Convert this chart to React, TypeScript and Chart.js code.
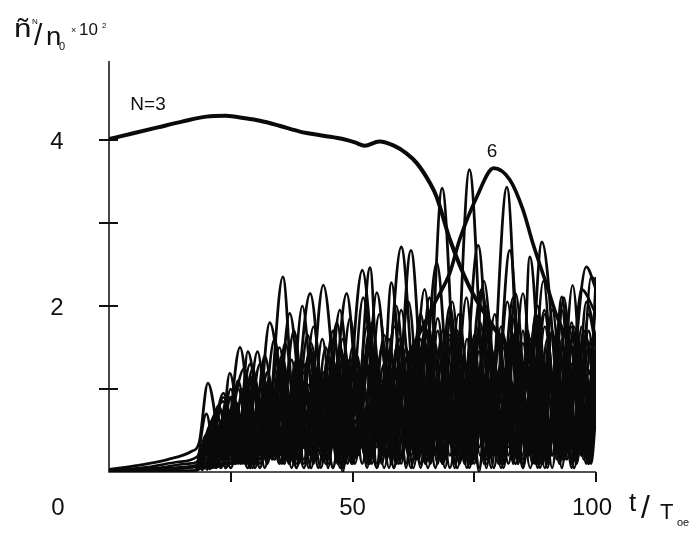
import React, { useEffect, useRef } from 'react';
import { Chart, registerables } from 'chart.js';

Chart.register(...registerables);

// ---- axis / tick data ----
const xTicks = [25, 50, 75, 100];
const yTicks = [1, 2, 3, 4];
const xLabelValues = [50, 100];
const yLabelValues = [2, 4];

// ---- shared time grids for the dense oscillating modes ----
const gridA = [18,20,22,24,26,28,30,32,34,36,38,40,42,44,46,48,50,52,54,56,58,60,62,64,66,68,70,72,74,76,78,80,82,84,86,88,90,92,94,96,98,100];
const gridB = [19,21,23,25,27,29,31,33,35,37,39,41,43,45,47,49,51,53,55,57,59,61,63,65,67,69,71,73,75,77,79,81,83,85,87,89,91,93,95,97,99,100];
const gridC = [20,22.5,25,27.5,30,32.5,35,37.5,40,42.5,45,47.5,50,52.5,55,57.5,60,62.5,65,67.5,70,72.5,75,77.5,80,82.5,85,87.5,90,92.5,95,97.5,100];
const gridD = [21,23.5,26,28.5,31,33.5,36,38.5,41,43.5,46,48.5,51,53.5,56,58.5,61,63.5,66,68.5,71,73.5,76,78.5,81,83.5,86,88.5,91,93.5,96,98.5,100];
const gridE = [20.5,23.5,26.5,29.5,32.5,35.5,38.5,41.5,44.5,47.5,50.5,53.5,56.5,59.5,62.5,65.5,68.5,71.5,74.5,77.5,80.5,83.5,86.5,89.5,92.5,95.5,98.5,100];

// ---- dense low modes (values on the grids above) ----
const fA1 = [.04,.7,.1,.85,.15,.95,.2,1.1,.3,1,.15,1.3,.1,1.2,.35,1.4,.2,1.15,.4,1.5,.1,1.3,.3,1.6,.2,1.4,.5,1.25,.1,1.7,.3,1.5,.2,1.35,.45,1.8,.1,1.45,.3,1.65,.2,1.3];
const fA2 = [.03,.12,.6,.05,.8,.1,1.05,.25,.95,.1,1.2,.3,1.1,.15,1.3,0,1.2,.3,1.4,.2,1.1,.4,1.5,.1,1.3,.3,1.6,.2,1.2,0,1.5,.3,1.4,.1,1.7,.2,1.3,.4,1.55,.1,1.6,.8];
const fA3 = [.02,.45,.05,.55,.1,.6,.05,.7,.15,.65,.1,.8,.2,.75,.05,.9,.15,.7,.1,.95,.2,.8,.05,.85,.1,1.0,.2,.75,.05,.9,.15,1.0,.1,.85,.2,.95,.05,.9,.15,1.05,.1,.9];
const fA4 = [.02,.1,.4,.05,.6,.2,.7,.05,.8,.15,.75,.1,.9,.2,.85,.05,1.0,.1,.9,.25,1.05,.1,.95,.05,1.1,.2,1.0,.1,1.15,.05,.95,.2,1.1,.1,1.2,.05,1.0,.15,1.15,.1,1.05,.6];
const fB1 = [.03,.55,.08,.75,.2,.9,.1,1.0,.25,1.15,.1,1.05,.3,1.25,.15,1.35,.2,1.3,.1,1.45,.35,1.2,.15,1.55,.25,1.45,.1,1.35,.3,1.6,.2,1.5,.1,1.7,.35,1.4,.2,1.6,.1,1.75,.3,1.1];
const fB2 = [.02,.2,.75,.1,.85,.05,1.0,.2,1.1,.1,1.25,.25,1.15,.05,1.3,.3,1.4,.1,1.25,.2,1.5,.05,1.35,.3,1.55,.15,1.45,.2,1.65,.1,1.4,.25,1.6,.05,1.5,.3,1.7,.15,1.45,.2,1.6,1.0];
const fB3 = [.02,.35,.05,.5,.1,.55,.05,.65,.1,.6,.15,.75,.05,.7,.1,.85,.2,.8,.05,.9,.1,.75,.15,.95,.05,.85,.2,.9,.1,1.0,.05,.85,.15,1.0,.1,.9,.2,1.05,.05,.95,.1,.7];
const fB4 = [.02,.15,.5,.1,.65,.05,.8,.2,.75,.1,.9,.05,.85,.2,1.0,.1,.95,.05,1.1,.15,1.0,.1,1.15,.2,1.05,.05,1.2,.1,1.1,.2,1.25,.05,1.05,.15,1.2,.1,1.15,.05,1.3,.2,1.1,.8];
const fC1 = [.05,.8,.15,1.0,.1,1.2,.3,1.35,.15,1.25,.4,1.5,.1,1.4,.3,1.6,.2,1.45,.1,1.7,.35,1.55,.15,1.75,.25,1.6,.1,1.8,.3,1.5,.2,1.7,.9];
const fC2 = [.02,.3,.9,.1,1.1,.2,1.3,.05,1.2,.3,1.4,.1,1.5,.2,1.35,.05,1.55,.3,1.4,.1,1.65,.2,1.5,.05,1.7,.3,1.55,.1,1.6,.2,1.75,.15,1.4];
const fC3 = [.03,.55,.05,.7,.1,.8,.2,.9,.05,.85,.15,1.0,.1,.95,.05,1.1,.2,1.0,.1,1.15,.05,1.05,.2,1.2,.1,1.1,.05,1.25,.15,1.05,.1,1.2,.7];
const fD1 = [.05,.65,.1,.95,.2,1.05,.1,1.2,.3,1.15,.05,1.35,.2,1.45,.1,1.3,.35,1.55,.15,1.4,.05,1.6,.3,1.5,.1,1.7,.2,1.55,.05,1.65,.3,1.5,1.0];
const fD2 = [.1,.2,.85,.1,1.0,.15,1.15,.05,1.25,.2,1.35,.1,1.2,.3,1.45,.05,1.5,.2,1.35,.1,1.6,.3,1.45,.05,1.65,.2,1.5,.1,1.7,.25,1.55,.1,1.2];
const fD3 = [.05,.1,.6,.05,.75,.2,.85,.1,.95,.05,1.05,.2,.9,.1,1.1,.05,1.15,.15,1.0,.1,1.2,.05,1.1,.2,1.25,.1,1.05,.05,1.2,.15,1.1,.1,.8];
const fE1 = [.05,.9,.1,1.15,.2,1.3,.05,1.45,.25,1.4,.1,1.6,.3,1.5,.05,1.7,.2,1.65,.1,1.8,.3,1.6,.05,1.75,.2,1.65,.1,1.4];
const fE2 = [.05,.3,1.0,.1,1.2,.2,1.35,.05,1.5,.25,1.45,.1,1.65,.3,1.5,.05,1.7,.2,1.55,.1,1.75,.3,1.6,.05,1.8,.2,1.7,.9];
const fE3 = [.03,.95,.15,1.25,.1,1.4,.3,1.55,.1,1.5,.2,1.7,.05,1.6,.25,1.8,.1,1.7,.3,1.85,.05,1.7,.2,1.9,.1,1.75,.3,1.6];
const fE4 = [.03,.2,.7,.05,.9,.1,1.05,.2,1.15,.05,1.25,.15,1.3,.1,1.2,.2,1.35,.05,1.4,.15,1.3,.1,1.45,.2,1.35,.05,1.5,.8];

// ---- mid-level modes ([t, value] pairs) ----
const M1 = [[0,.02],[8,.06],[14,.12],[18,.18],[22.2,.7],[24,.2],[26.5,1.1],[29.2,.2],[32,1.4],[34.8,.3],[38,1.7],[41,.2],[43.8,1.6],[46.5,.3],[49.5,1.85],[52.5,.2],[55.5,1.9],[58.4,.3],[61.5,2.05],[64.5,.2],[67.5,1.85],[70.4,.3],[73.4,2.1],[76.2,.2],[79.2,1.9],[82,.3],[85,2.15],[88,.1],[91,1.95],[94,.3],[97,2.2],[100,1.9]];
const M2 = [[0,.01],[10,.05],[16,.1],[18,.12],[20.8,.5],[22.3,.1],[25,1.0],[27.6,.3],[30.5,1.45],[33.2,.2],[36.2,1.55],[39,.3],[42,1.75],[45,.1],[48,1.6],[51,.3],[54,1.8],[57,.2],[60,1.95],[63,.3],[65.8,2.1],[68.8,.2],[71.8,1.9],[74.8,.3],[77.6,2.0],[80.5,.1],[83.5,2.15],[86.4,.3],[89.4,1.95],[92.3,.2],[95.2,2.25],[98,.3],[100,2.35]];
const M3 = [[18,.02],[21.3,.6],[23,.15],[27.8,1.25],[30.8,.2],[34,1.6],[36.8,.25],[39.7,2.0],[42.8,.3],[46,1.7],[49,.2],[52.2,2.1],[55.4,.3],[58.6,1.75],[61.5,.2],[64.8,2.2],[67.8,.3],[70.8,1.7],[73.8,.2],[77,2.3],[80.2,.3],[83.3,1.85],[86.2,.2],[89.2,2.3],[92.1,.3],[95,1.8],[97.5,.3],[100,2.1]];
const M4 = [[18,.03],[23.5,.85],[25.6,.1],[29,1.3],[32,.3],[35,1.5],[37.8,.2],[40.8,1.65],[43.6,.3],[46.8,1.8],[49.8,.1],[53,1.75],[56,.3],[59,2.0],[62,.2],[65,1.75],[67.6,.3],[70.5,2.05],[73.3,.2],[76.2,1.8],[78.9,.3],[81.8,2.05],[84.8,.2],[87.7,1.9],[90.5,.3],[93.4,2.1],[96.3,.2],[99,2.35],[100,2.3]];

// ---- tall modes ([t, value] pairs) ----
const S1 = [[0,.03],[6,.08],[12,.15],[17,.25],[18.5,.35],[20.3,1.07],[23.6,.15],[26.9,1.5],[30,.2],[33,1.8],[37.2,.3],[41.3,2.15],[45,.25],[48.8,2.15],[52,.3],[55,2.16],[58.5,.2],[62,2.67],[65.2,.4],[68.4,3.42],[72,.3],[75.8,2.73],[79,.4],[82.3,2.67],[85.6,.2],[88.9,2.77],[93.5,.3],[98,2.47],[100,2.2]];
const S2 = [[0,0],[10,.03],[18,.08],[21.5,.5],[22.8,.2],[24.8,1.19],[27.8,.15],[31,1.3],[34,.2],[37.1,1.91],[40.5,.3],[44,2.25],[48,.2],[52,2.43],[56,.3],[60,2.71],[63.7,.3],[67.3,2.52],[70.6,.4],[74,3.64],[77.8,.3],[81.7,3.43],[84.9,.4],[88,2.0],[90.5,.3],[93,2.11],[95.8,.2],[98.5,1.9],[100,1.5]];
const S3 = [[0,.01],[18,.02],[21,.4],[22.5,.1],[25,.9],[26.5,.2],[28.5,1.45],[32,.2],[35.7,2.35],[38.5,.3],[41,1.4],[44.2,.2],[47.4,1.95],[50.5,.3],[53.6,2.46],[55.8,.4],[58,2.28],[61,.3],[64,1.9],[67,.2],[70,2.0],[72.8,.3],[76.5,2.2],[80,.4],[83,2.1],[84.7,.5],[86.4,2.59],[89.8,.2],[93,1.95],[95.6,.3],[98,2.05],[100,1.6]];

// ---- labelled modes ----
const mode6 = [[0,.01],[10,.03],[20,.08],[30,.15],[40,.3],[48,.5],[55,.85],[60,1.25],[64,1.7],[67,2.05],[70,2.4],[72,2.8],[75.5,3.31],[79,3.66],[82.3,3.52],[85,3.16],[87,2.76],[90,2.23],[92,1.87],[95,1.5],[100,1.1]];
const mode3 = [[0,4.01],[5,4.08],[10,4.15],[15,4.22],[20,4.28],[24,4.29],[28,4.26],[31,4.23],[35,4.17],[39.2,4.1],[44,4.05],[48,4.01],[50.5,3.97],[52.5,3.93],[55.5,3.98],[58.5,3.93],[61,3.84],[63.2,3.72],[65.9,3.48],[67.3,3.31],[70,2.8],[74,2.23],[78,1.83],[82,1.5],[86,1.25],[90,1.1],[95,1.0],[100,0.9]];

const FONT = '"Liberation Sans", Arial, Helvetica, sans-serif';

function onGrid(grid: number[], vals: number[]) {
  const n = Math.min(grid.length, vals.length);
  const out: { x: number; y: number }[] = [];
  for (let i = 0; i < n; i++) out.push({ x: grid[i], y: vals[i] });
  return out;
}
function fromPairs(arr: number[][]) {
  return arr.map(([x, y]) => ({ x, y }));
}

function stretchedText(ctx: any, text: string, x: number, y: number, sx: number) {
  ctx.save();
  ctx.translate(x, y);
  ctx.scale(sx, 1);
  ctx.fillText(text, 0, 0);
  ctx.restore();
}

const decorPlugin = {
  id: 'decor',
  beforeDatasetsDraw(chart: any) {
    const { ctx, chartArea, scales } = chart;
    const { left, right, top, bottom } = chartArea;
    const xs = scales.x, ys = scales.y;
    ctx.save();
    ctx.strokeStyle = '#1a1a1a';
    ctx.lineWidth = 1.6;
    ctx.beginPath();
    ctx.moveTo(left, top);
    ctx.lineTo(left, bottom);
    ctx.lineTo(right, bottom);
    ctx.stroke();
    ctx.lineWidth = 2;
    ctx.strokeStyle = '#111';
    for (const v of yTicks) {
      const py = Math.round(ys.getPixelForValue(v));
      ctx.beginPath();
      ctx.moveTo(left - 10, py);
      ctx.lineTo(left + 9, py);
      ctx.stroke();
    }
    for (const v of xTicks) {
      const px = Math.round(xs.getPixelForValue(v));
      ctx.beginPath();
      ctx.moveTo(px, bottom);
      ctx.lineTo(px, bottom + 10);
      ctx.stroke();
    }
    ctx.restore();
  },
  afterDraw(chart: any) {
    const { ctx, chartArea, scales } = chart;
    const { left, bottom } = chartArea;
    const xs = scales.x, ys = scales.y;
    ctx.save();
    ctx.fillStyle = '#111';
    ctx.textAlign = 'center';
    ctx.textBaseline = 'alphabetic';
    ctx.font = `24px ${FONT}`;
    for (const v of yLabelValues) {
      ctx.fillText(String(v), left - 52, ys.getPixelForValue(v) + 9);
    }
    const lb = bottom + 43;
    ctx.fillText('0', left - 51, lb);
    for (const v of xLabelValues) {
      ctx.fillText(String(v), xs.getPixelForValue(v) - (v === 100 ? 4 : 0), lb);
    }
    // x axis title t/T_oe
    ctx.textAlign = 'left';
    ctx.font = `26px ${FONT}`;
    ctx.fillText('t', 629, lb - 4);
    ctx.font = `32px ${FONT}`;
    ctx.fillText('/', 641, lb + 3);
    ctx.font = `22px ${FONT}`;
    ctx.fillText('T', 660, lb + 4);
    ctx.font = `11px ${FONT}`;
    ctx.fillText('oe', 677, lb + 11);
    // y axis title ñ^N / n_0 ×10^2
    ctx.font = `26px ${FONT}`;
    stretchedText(ctx, 'ñ', 14, 37, 1.2);
    ctx.font = `8px ${FONT}`;
    ctx.fillText('N', 32, 24);
    ctx.font = `30px ${FONT}`;
    ctx.fillText('/', 34, 45);
    ctx.font = `25px ${FONT}`;
    stretchedText(ctx, 'n', 46, 45, 1.1);
    ctx.font = `11px ${FONT}`;
    ctx.fillText('0', 59, 50);
    ctx.font = `9px ${FONT}`;
    ctx.fillText('×', 71, 33);
    ctx.font = `17px ${FONT}`;
    ctx.fillText('10', 79, 35);
    ctx.font = `8px ${FONT}`;
    ctx.fillText('2', 102, 28);
    // curve labels
    ctx.textAlign = 'center';
    ctx.font = `19px ${FONT}`;
    ctx.fillText('N=3', 148, 110);
    ctx.fillText('6', 492, 157);
    ctx.restore();
  },
};

export default function App() {
  const ref = useRef<HTMLCanvasElement | null>(null);
  useEffect(() => {
    document.body.style.margin = '0';
    const canvas = ref.current;
    if (!canvas) return;
    const line = (data: any[], w = 2.6) => ({
      data,
      borderColor: '#0a0a0a',
      borderWidth: w,
      pointRadius: 0,
      fill: false,
      cubicInterpolationMode: 'monotone' as const,
    });
    const fills = [
      [gridA, fA1], [gridA, fA2], [gridA, fA3], [gridA, fA4],
      [gridB, fB1], [gridB, fB2], [gridB, fB3], [gridB, fB4],
      [gridC, fC1], [gridC, fC2], [gridC, fC3],
      [gridD, fD1], [gridD, fD2], [gridD, fD3],
      [gridE, fE1], [gridE, fE2], [gridE, fE3], [gridE, fE4],
    ] as [number[], number[]][];
    const datasets = [
      ...fills.map(([g, v]) => line(onGrid(g, v), 2.6)),
      ...[M1, M2, M3, M4].map((m) => line(fromPairs(m), 2.6)),
      ...[S1, S2, S3].map((s) => line(fromPairs(s), 2.8)),
      line(fromPairs(mode6), 3.6),
      line(fromPairs(mode3), 4),
    ];
    const chart = new Chart(canvas, {
      type: 'line',
      data: { datasets },
      options: {
        animation: false,
        responsive: false,
        devicePixelRatio: 1,
        parsing: false as any,
        layout: { padding: { left: 109, right: 102, top: 61, bottom: 65 } },
        plugins: { legend: { display: false }, tooltip: { enabled: false } },
        scales: {
          x: { type: 'linear', min: 0, max: 100, display: false },
          y: { type: 'linear', min: 0, max: 4.95, display: false },
        },
      },
      plugins: [decorPlugin],
    });
    return () => chart.destroy();
  }, []);
  return (
    <div style={{ width: 698, height: 537, background: '#fff' }}>
      <canvas ref={ref} width={698} height={537} style={{ display: 'block' }} />
    </div>
  );
}
